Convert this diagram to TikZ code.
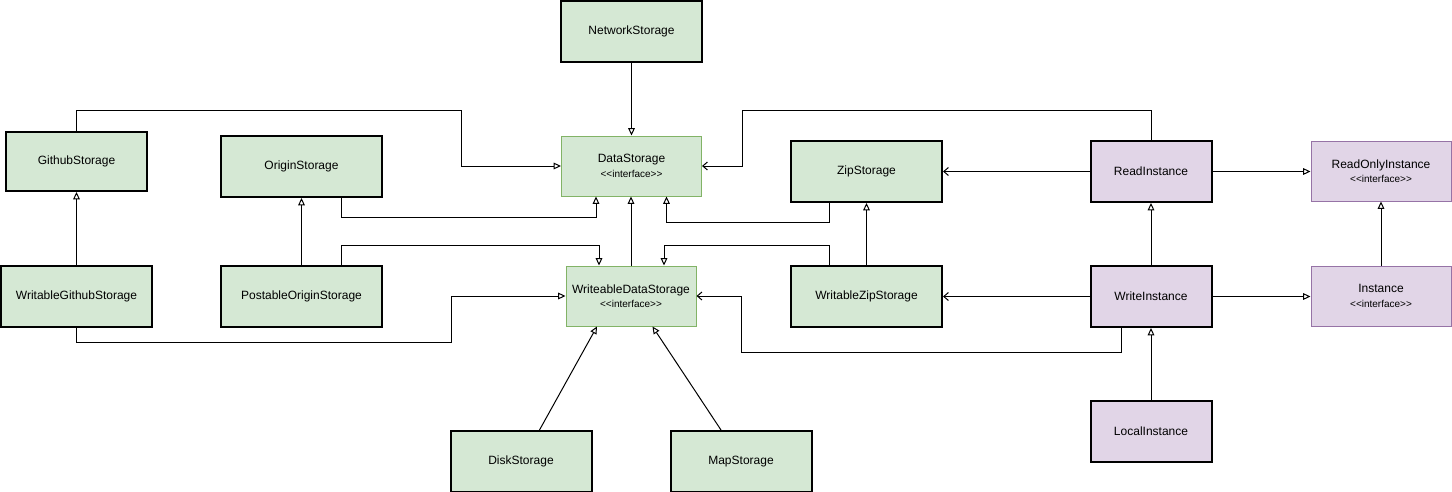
\documentclass[tikz,border=0pt]{standalone}
\usepackage{fontspec}
\setmainfont{Liberation Sans}
\usetikzlibrary{arrows.meta,calc}

\definecolor{greenfill}{HTML}{D5E8D4}
\definecolor{greenline}{HTML}{82B366}
\definecolor{purplefill}{HTML}{E1D5E7}
\definecolor{purpleline}{HTML}{9673A6}

\newcommand{\ifacelabel}[1]{#1\\{\fontsize{7.5}{9}\selectfont <{}<interface>{}>}}

\begin{document}
\begin{tikzpicture}[
  x=0.75pt, y=-0.75pt,
  box/.style={rectangle, inner sep=0pt, align=center,
    font=\fontsize{9}{10.8}\selectfont},
  greenclass/.style={box, fill=greenfill, draw=black, line width=1.5pt},
  greeniface/.style={box, fill=greenfill, draw=greenline, line width=0.75pt},
  purpleclass/.style={box, fill=purplefill, draw=black, line width=1.5pt},
  purpleiface/.style={box, fill=purplefill, draw=purpleline, line width=0.75pt},
  wh/.style 2 args={minimum width=#1*0.75pt, minimum height=#2*0.75pt},
  link/.style={draw=black, line width=0.75pt},
  realize/.style={link, -{Triangle[open, length=5.5pt, width=5pt, fill=white]}},
  uses/.style={link, -{Straight Barb[length=3.5pt, width=6pt]}},
]
\useasboundingbox (0,0) rectangle (1452,492);

% storage classes
\node[greenclass, wh={141}{61}] (net) at (631.5,31.5) {NetworkStorage};
\node[greenclass, wh={141}{59}] (github) at (76.5,161.5) {GithubStorage};
\node[greenclass, wh={161}{61}] (origin) at (301.5,166.5) {OriginStorage};
\node[greenclass, wh={151}{61}] (wgithub) at (76.5,296.5) {WritableGithubStorage};
\node[greenclass, wh={161}{61}] (porigin) at (301.5,296.5) {PostableOriginStorage};
\node[greenclass, wh={151}{61}] (zip) at (866.5,171.5) {ZipStorage};
\node[greenclass, wh={151}{61}] (wzip) at (866.5,296.5) {WritableZipStorage};
\node[greenclass, wh={141}{61}] (disk) at (521,461.5) {DiskStorage};
\node[greenclass, wh={141}{61}] (map) at (741,461.5) {MapStorage};

% storage interfaces
\node[greeniface, wh={140}{60}] (ds) at (631.5,166) {\ifacelabel{DataStorage}};
\node[greeniface, wh={130}{60}] (wds) at (631,296) {\ifacelabel{WriteableDataStorage}};

% instance classes
\node[purpleclass, wh={121}{61}] (read) at (1151,171.5) {ReadInstance};
\node[purpleclass, wh={121}{61}] (write) at (1151,296.5) {WriteInstance};
\node[purpleclass, wh={121}{61}] (local) at (1151,431.5) {LocalInstance};

% instance interfaces
\node[purpleiface, wh={140}{60}] (roi) at (1381,171) {\ifacelabel{ReadOnlyInstance}};
\node[purpleiface, wh={140}{60}] (inst) at (1381,296) {\ifacelabel{Instance}};

% realizations of DataStorage
\draw[realize] (net.south) -- (net.south |- ds.north);
\draw[realize] (github.north) -- ++(0,-20.5) -| ($(ds.west)+(-100,0)$) -- (ds.west);
\draw[realize] ($(origin.south)+(40,0)$) -- ++(0,19.5) -| ($(ds.south)+(-35.5,0)$);
\draw[realize] (wds.north) -- (wds.north |- ds.south);
\draw[realize] ($(zip.south)+(-37.5,0)$) -- ++(0,19) -| ($(ds.south)+(35,0)$);

% realizations of WriteableDataStorage
\draw[realize] ($(porigin.north)+(40,0)$) -- ++(0,-19.5) -| ($(wds.north)+(-32,0)$);
\draw[realize] ($(wzip.north)+(-37.5,0)$) -- ++(0,-19.5) -| ($(wds.north)+(33,0)$);
\draw[realize] (wgithub.south) -- ++(0,14) -| ($(wds.west)+(-114.5,0)$) -- (wds.west);
\draw[realize] ($(disk.north)+(18.5,0)$) -- ($(wds.south)+(-34,0)$);
\draw[realize] ($(map.north)+(-20,0)$) -- ($(wds.south)+(21.5,0)$);

% subclass links on the storage side
\draw[realize] (wgithub.north) -- (github.south);
\draw[realize] (porigin.north) -- (origin.south);
\draw[realize] (wzip.north) -- (zip.south);

% instance side
\draw[uses] (read.north) -- ++(0,-29.5) -| ($(ds.east)+(40,0)$) -- (ds.east);
\draw[uses] (read.west) -- (zip.east);
\draw[realize] (read.east) -- (read.east -| roi.west);
\draw[realize] (write.north) -- (read.south);
\draw[uses] (write.west) -- (wzip.east);
\draw[realize] (write.east) -- (write.east -| inst.west);
\draw[realize] (inst.north) -- (roi.south);
\draw[uses] ($(write.south)+(-29.5,0)$) -- ++(0,24) -| ($(wds.east)+(45,0)$) -- (wds.east);
\draw[realize] (local.north) -- (write.south);
\end{tikzpicture}
\end{document}
